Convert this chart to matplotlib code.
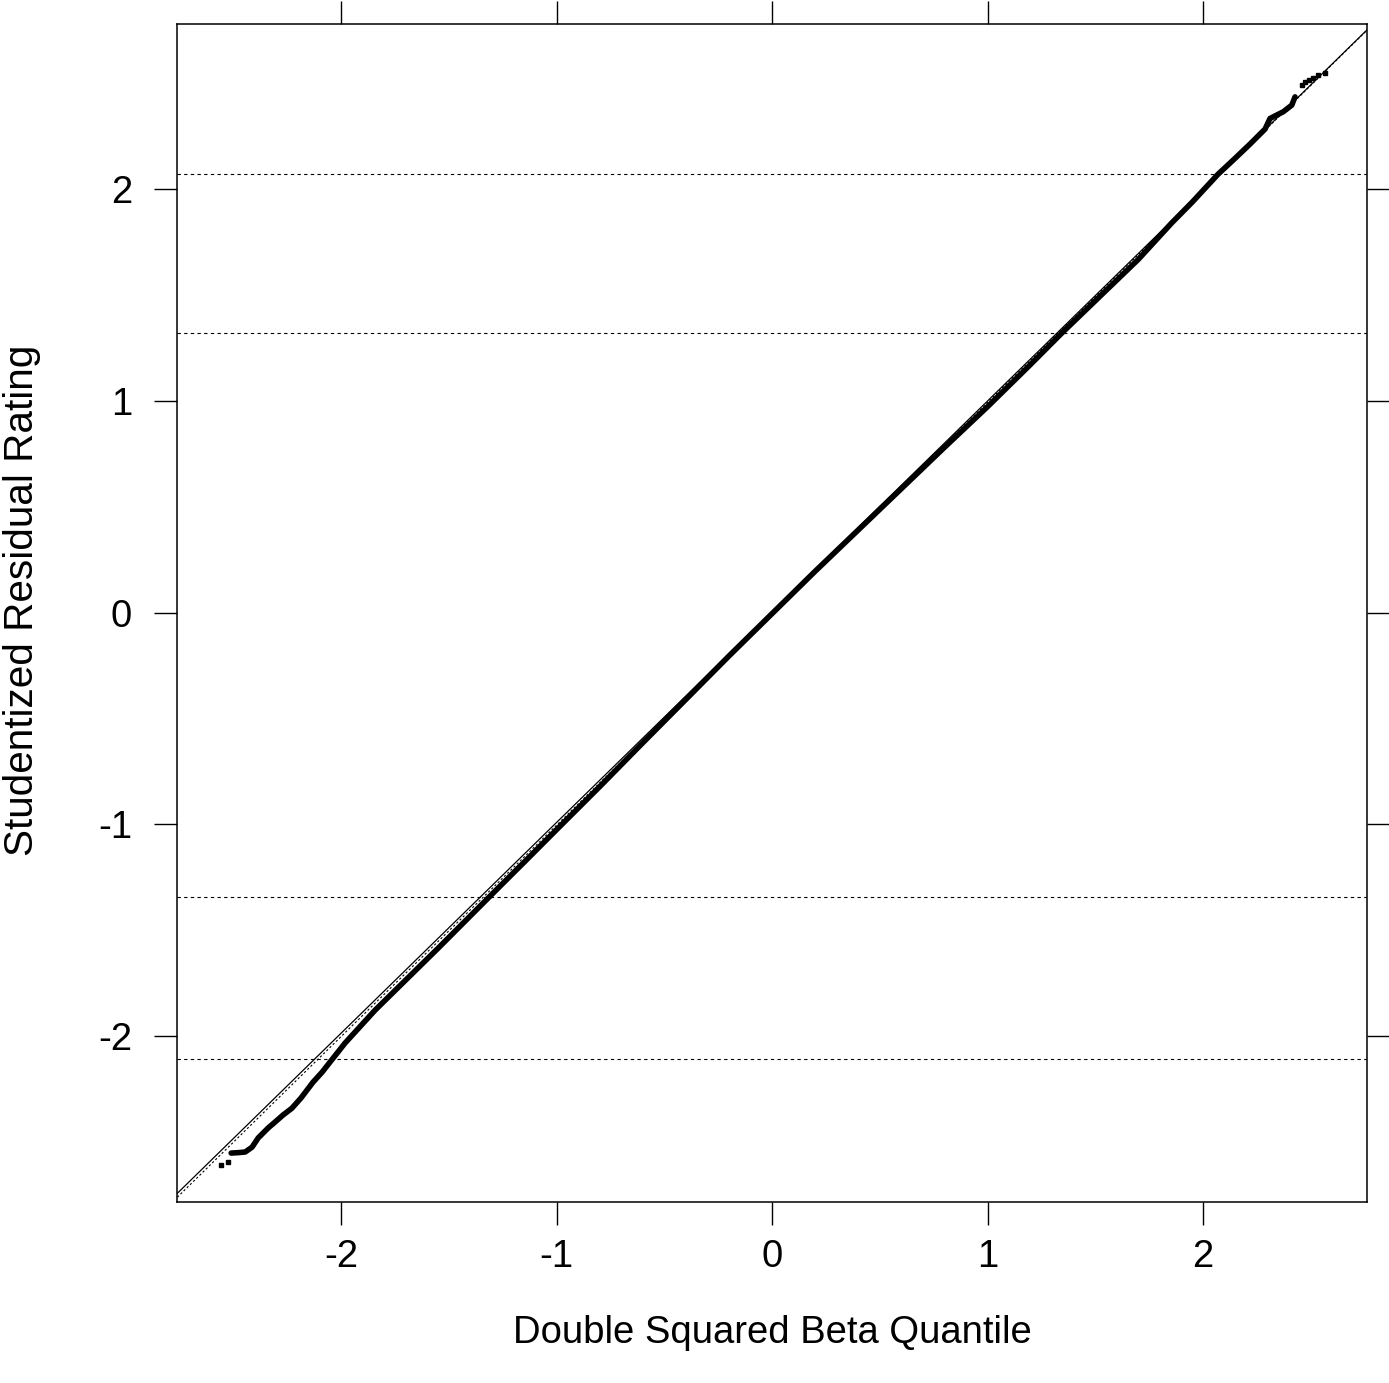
import matplotlib
matplotlib.use("Agg")
import matplotlib.pyplot as plt
import numpy as np

plt.rcParams['font.family'] = ['Liberation Sans', 'DejaVu Sans']

# Quantile pairs along the dense body of the Q-Q plot
body_x = [-2.510, -2.478, -2.445, -2.413, -2.385, -2.339, -2.307, -2.270,
          -2.228, -2.186, -2.130, -2.088, -2.051, -1.981, -1.842, -1.700,
          -1.550, -1.400, -1.300, -1.150, -1.000, -0.800, -0.600, -0.400,
          -0.200, 0.000, 0.200, 0.400, 0.600, 0.800, 1.000, 1.200, 1.350,
          1.500, 1.700, 1.855, 1.950, 2.070, 2.150, 2.218, 2.288, 2.311,
          2.373, 2.412, 2.427]
body_y = [-2.552, -2.550, -2.547, -2.524, -2.481, -2.434, -2.406, -2.373,
          -2.340, -2.292, -2.217, -2.170, -2.122, -2.032, -1.877, -1.735,
          -1.585, -1.432, -1.330, -1.178, -1.025, -0.822, -0.615, -0.410,
          -0.205, -0.005, 0.195, 0.390, 0.585, 0.780, 0.972, 1.172, 1.325,
          1.472, 1.668, 1.840, 1.938, 2.070, 2.146, 2.212, 2.283, 2.333,
          2.365, 2.396, 2.435]

# Sparse tail observations
tail_x = [-2.558, -2.524, 2.458, 2.475, 2.490, 2.510, 2.534, 2.566]
tail_y = [-2.607, -2.594, 2.490, 2.505, 2.514, 2.522, 2.538, 2.549]

# Reference lines
ref_slope, ref_intercept = 0.995, 0.004
fit_slope, fit_intercept = 0.998, -0.006
ref_levels = [2.069, 1.321, -1.345, -2.108]

x_ticks = [-2, -1, 0, 1, 2]
y_ticks = [-2, -1, 0, 1, 2]
x_limits = (-2.76, 2.761)
y_limits = (-2.783, 2.779)

W, H = 1389, 1383
fig = plt.figure(figsize=(W / 100, H / 100), dpi=100)
ax = fig.add_axes([177.3 / W, 1 - 1202 / H, (1367 - 177.3) / W, (1202 - 24) / H])

ax.set_xlim(*x_limits)
ax.set_ylim(*y_limits)

for lv in ref_levels:
    ax.axhline(lv, color='black', lw=0.8, linestyle=(0, (3, 3)), zorder=1)

xs = np.array(x_limits)
ax.plot(xs, ref_slope * xs + ref_intercept, color='black', lw=0.9, zorder=2)
ax.plot(xs, fit_slope * xs + fit_intercept, color='black', lw=0.8,
        linestyle=(0, (2, 2)), zorder=2)

ax.plot(body_x, body_y, color='black', lw=4.0, solid_capstyle='round',
        solid_joinstyle='round', zorder=3)
ax.plot(tail_x, tail_y, linestyle='none', marker='s', markersize=2.6,
        color='black', zorder=3)

ax.set_xticks(x_ticks)
ax.set_yticks(y_ticks)
ax.set_xticklabels([str(v) for v in x_ticks])
ax.set_yticklabels([str(v) for v in y_ticks])

ax.tick_params(axis='both', which='major', direction='out', length=16.5,
               width=1.0, labelsize=27.5, top=True, right=True,
               labeltop=False, labelright=False)
ax.tick_params(axis='x', pad=10)
ax.tick_params(axis='y', pad=16)
for sp in ax.spines.values():
    sp.set_linewidth(1.1)

fig.text(772 / W, 1 - 1333 / H, 'Double Squared Beta Quantile',
         ha='center', va='center', fontsize=27.5)
fig.text(22 / W, 1 - 600 / H, 'Studentized Residual Rating',
         ha='center', va='center', rotation=90, fontsize=29.2)

fig.savefig('out.png', dpi=100, facecolor='white')
